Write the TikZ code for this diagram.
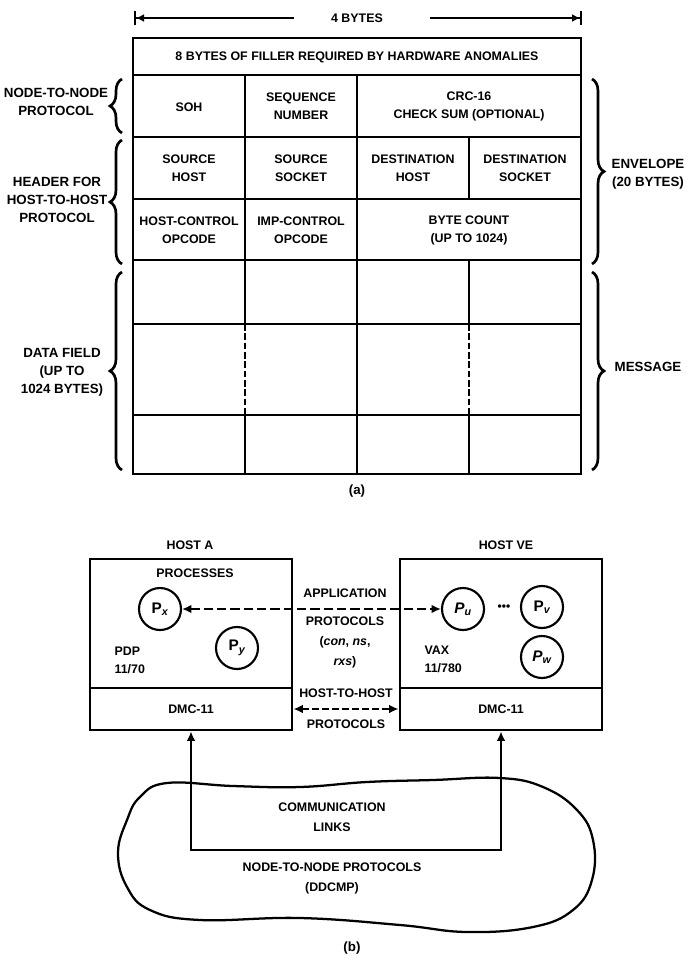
\documentclass[tikz,border=0pt]{standalone}
\usepackage{fontspec}
\setmainfont{Liberation Sans}
\usetikzlibrary{arrows.meta,positioning,decorations.pathreplacing}

\tikzset{
  lbl/.style={font=\bfseries\fontsize{9.3}{13.5}\selectfont, align=center, inner sep=1pt},
  side/.style={lbl, font=\bfseries\fontsize{10}{13.5}\selectfont},
  wide/.style={lbl, font=\bfseries\fontsize{9.3}{15}\selectfont},
  grid/.style={line width=2pt},
  brc/.style={decorate, decoration={brace, amplitude=9pt}, line width=2pt},
  hostbox/.style={draw, line width=2.2pt, minimum width=151.5pt, inner sep=0pt},
  proc/.style={circle, draw, line width=1.6pt, minimum size=31.5pt, inner sep=0pt, font=\bfseries\fontsize{11.5}{12}\selectfont},
  dasharrow/.style={line width=2pt, dash pattern=on 7pt off 3pt, {Latex[length=7pt,width=6.5pt]}-{Latex[length=7pt,width=6.5pt]}}
}

\begin{document}
\begin{tikzpicture}[x=0.75pt,y=-0.75pt]
\useasboundingbox (0,0) rectangle (688,968);

% (a) width of the frame
\node[lbl] (bytes) at (357,18) {4 BYTES};
\coordinate (wl) at (134,18);
\coordinate (wr) at (582,18);
\draw[line width=1.5pt, {Bar[width=11pt]Latex[length=6pt,width=6pt]}-] (wl) -- ([xshift=-27pt]bytes.west);
\draw[line width=1.5pt, -{Latex[length=6pt,width=6pt]Bar[width=11pt]}] ([xshift=34pt]bytes.east) -- (wr);

% (a) frame, rows and columns
\draw[grid] (133,38) rectangle (581,474);
\foreach \y in {75,137,199,260,324,415}
  \draw[grid] (133,\y) -- (581,\y);
\draw[grid] (357,75) -- (357,474);
\draw[grid] (245,75) -- (245,324) (245,415) -- (245,474);
\draw[grid] (469,137) -- (469,199) (469,260) -- (469,324) (469,415) -- (469,474);
\draw[grid, dash pattern=on 5pt off 2pt] (245,324) -- (245,415) (469,324) -- (469,415);

% (a) fields
\node[lbl] (filler) at (357,57) {8 BYTES OF FILLER REQUIRED BY HARDWARE ANOMALIES};
\node[lbl] (soh) at (189,107) {SOH};
\node[lbl] (seq) at (301,106) {SEQUENCE\\NUMBER};
\node[lbl] (crc) at (469,106) {CRC-16\\CHECK SUM (OPTIONAL)};
\node[lbl] (srch) at (189,168) {SOURCE\\HOST};
\node[lbl] (srcs) at (301,168) {SOURCE\\SOCKET};
\node[lbl] (dsth) at (413,168) {DESTINATION\\HOST};
\node[lbl] (dsts) at (525,168) {DESTINATION\\SOCKET};
\node[lbl] (hctl) at (189,230) {HOST-CONTROL\\OPCODE};
\node[lbl] (ictl) at (301,230) {IMP-CONTROL\\OPCODE};
\node[lbl] (count) at (469,230) {BYTE COUNT\\(UP TO 1024)};

% (a) braces and their labels
\draw[brc] (122,133) -- (122,79);
\draw[brc] (122,264) -- (122,140);
\draw[brc] (122,470) -- (122,272);
\draw[brc] (592,79) -- (592,264);
\draw[brc] (592,272) -- (592,470);
\node[side] (n2n) at (56,102) {NODE-TO-NODE\\PROTOCOL};
\node[side] (hdr) at (57,200) {HEADER FOR\\HOST-TO-HOST\\PROTOCOL};
\node[side] (data) at (62,372) {DATA FIELD\\(UP TO\\1024 BYTES)};
\node[side] (env) at (648,174) {ENVELOPE\\(20 BYTES)};
\node[side] (msg) at (648,367) {MESSAGE};
\node[side] (capa) at (357,491) {(a)};

% (b) hosts
\node[lbl] (hostA) at (190,545) {HOST A};
\node[lbl] (hostVE) at (506,545) {HOST VE};
\node[hostbox, minimum height=96.75pt] (boxA) at (191,623.5) {};
\node[hostbox, minimum height=96.75pt] (boxVE) at (501,623.5) {};
\node[lbl, hostbox, minimum height=31.5pt] (dmcA) at (191,709) {DMC-11};
\node[lbl, hostbox, minimum height=31.5pt] (dmcVE) at (501,709) {DMC-11};

% (b) processes
\node[lbl] (procs) at (195,573) {PROCESSES};
\node[proc] (px) at (160,609) {P\textsubscript{\itshape x}};
\node[proc] (py) at (237,648) {P\textsubscript{\itshape y}};
\node[lbl, align=left, anchor=west] (pdp) at (113,660) {PDP\\11/70};
\node[proc] (pu) at (463,609) {\itshape P\textsubscript{u}};
\node[lbl] (dots) at (504,608) {\fontsize{9}{9}\selectfont •••};
\node[proc] (pv) at (542,607) {P\textsubscript{\itshape v}};
\node[proc] (pw) at (542,657) {\itshape P\textsubscript{w}};
\node[lbl, align=left, anchor=west] (vax) at (423,659) {VAX\\11/780};

% (b) protocols between the hosts
\draw[dasharrow] (px) -- (pu);
\node[lbl] (app) at (345,593) {APPLICATION};
\node[wide] (appp) at (345,642) {PROTOCOLS\\(\textit{con}, \textit{ns},\\\textit{rxs})};
\draw[dasharrow, dash pattern=on 5pt off 2.5pt] (dmcA.east) -- (dmcVE.west);
\node[lbl] (h2h) at (346,693) {HOST-TO-HOST};
\node[lbl] (h2hp) at (346,724) {PROTOCOLS};

% (b) communication links
\coordinate (lnk) at (346,850);
\draw[line width=1.7pt, {Latex[length=7pt,width=6.5pt]}-{Latex[length=7pt,width=6.5pt]}] (dmcA.south) -- (dmcA.south |- lnk) -- (dmcVE.south |- lnk) -- (dmcVE.south);
\node[wide] (comm) at (332,817) {COMMUNICATION\\LINKS};
\node[wide] (n2np) at (332,878) {NODE-TO-NODE PROTOCOLS\\(DDCMP)};
\draw[line width=1.7pt] plot[smooth cycle, tension=0.7] coordinates {(167,783) (233,786) (300,787) (367,782) (433,780) (500,778) (543,787) (577,810) (593,840) (592,880) (573,910) (533,927) (467,932) (400,925) (300,918) (200,920) (150,910) (127,887) (118,853) (127,820) (140,797)};
\node[side] (capb) at (352,948) {(b)};
\end{tikzpicture}
\end{document}
